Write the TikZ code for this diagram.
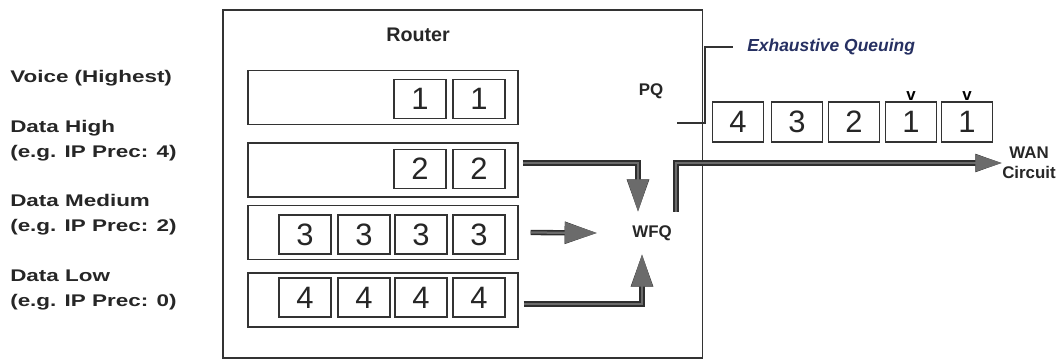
\documentclass[tikz,border=0pt]{standalone}
\usepackage{fontspec}
\setmainfont{Liberation Sans}
\newfontfamily\tagfont[FakeStretch=1.33]{Liberation Sans}
\usetikzlibrary{arrows.meta}
\definecolor{navy}{RGB}{38,48,98}

\begin{document}
\begin{tikzpicture}[
        x=0.025cm, y=-0.025cm,
        box/.style={draw=black!80, line width=0.8pt, inner sep=0pt},
        queue/.style={box, minimum width=6.75cm, minimum height=1.35cm},
        cell/.style={box, minimum width=1.3cm, minimum height=0.975cm,
            font=\fontsize{22}{22}\selectfont, text=black!85},
        outcell/.style={cell, minimum width=1.275cm, minimum height=1cm},
        tag/.style={anchor=west, align=left, inner sep=0pt, text=black!85,
            font=\tagfont\bfseries\fontsize{12}{17.7}\selectfont},
        title/.style={inner sep=0pt, text=black!85,
            font=\bfseries\fontsize{12}{14.2}\selectfont},
        vmark/.style={inner sep=0pt, yshift=0.5pt,
            font=\bfseries\fontsize{12}{12}\selectfont},
        flow/.style={draw=black!58, line width=1.6pt,
            preaction={draw=black!82, line width=3.8pt},
            -{Triangle[length=23pt,width=15pt]}}
    ]
    \useasboundingbox (0,0) rectangle (1056,360);

    % Router
    \node[box, minimum width=11.975cm, minimum height=8.7cm] (router) at (462.5,184) {};
    \node[title, font=\bfseries\fontsize{14}{14}\selectfont] (rtitle) at (418,35) {Router};

    % Clases
    \node[tag] (voice) at (10,78)    {Voice (Highest)};
    \node[tag] (dhigh) at (10,140.5) {Data High\\(e.g. IP Prec: 4)};
    \node[tag] (dmed)  at (10,214.5) {Data Medium\\(e.g. IP Prec: 2)};
    \node[tag] (dlow)  at (10,290)   {Data Low\\(e.g. IP Prec: 0)};

    % Colas
    \node[queue] (q1) at (383,97.5) {};
    \node[queue] (q2) at (383,170)  {};
    \node[queue] (q3) at (383,232.5) {};
    \node[queue] (q4) at (383,300)  {};

    % Paquetes
    \node[cell] (c11) at (420,99) {1};
    \node[cell] (c12) at (479,99) {1};
    \node[cell] (c21) at (420,169) {2};
    \node[cell] (c22) at (479,169) {2};
    \node[cell] (c31) at (305,234.5) {3};
    \node[cell] (c32) at (364,234.5) {3};
    \node[cell] (c33) at (421,234.5) {3};
    \node[cell] (c34) at (479,234.5) {3};
    \node[cell] (c41) at (305,297.5) {4};
    \node[cell] (c42) at (364,297.5) {4};
    \node[cell] (c43) at (421,297.5) {4};
    \node[cell] (c44) at (479,297.5) {4};

    % Planificadores
    \node[title] (pq) at (651,91) {PQ};
    \node[title, inner ysep=9.5pt] (wfq) at (652,233) {WFQ};
    \node[title, align=center] (wan) at (1029,163) {WAN\\Circuit};
    \node[title, anchor=west, inner xsep=0.35cm, text=navy,
        font=\bfseries\itshape\fontsize{12.4}{14}\selectfont] (exq) at (733,47) {Exhaustive Queuing};
    \coordinate (pqtap) at (677,123);

    % Salida
    \node[outcell] (o1) at (738,122) {4};
    \node[outcell] (o2) at (797,122) {3};
    \node[outcell] (o3) at (854,122) {2};
    \node[outcell, label={[vmark]above:v}] (o4) at (911,122) {1};
    \node[outcell, label={[vmark]above:v}] (o5) at (967,122) {1};

    % Flechas
    \draw[flow] ([xshift=0.1cm,yshift=0.175cm]q2.east) -| ([xshift=-0.35cm]wfq.north);
    \draw[flow] ([xshift=0.3cm]q3.east) -- ([xshift=-0.875cm]wfq.west);
    \draw[flow] ([xshift=0.125cm,yshift=-0.1cm]q4.east) -| ([xshift=-0.25cm]wfq.south);
    \draw[flow, -{Triangle[length=19pt,width=12pt]}] ([xshift=0.1cm]wfq.north east) |- (wan.west);
    \draw[line width=0.8pt, black!80] (pqtap) -- ++(28,0) |- (exq.west);

    \end{tikzpicture}
\end{document}
